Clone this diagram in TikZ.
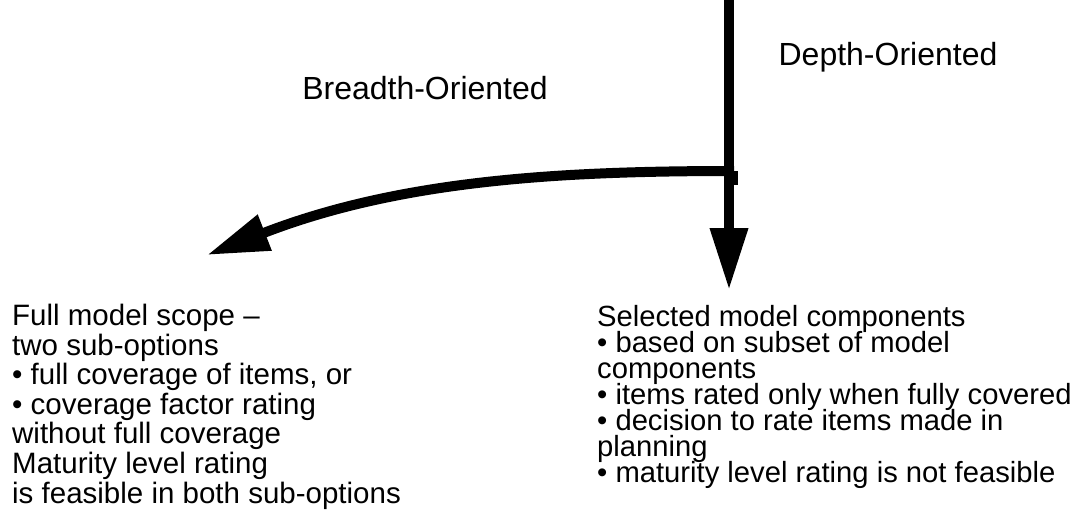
\documentclass[tikz,border=0pt]{standalone}
\usepackage{fontspec}
\setmainfont{Liberation Sans}
\usetikzlibrary{arrows.meta}
\newcommand\tightlines{\lineskiplimit=-20pt\relax}
\tikzset{
  bigarrow/.style = {line width=10pt, -{Triangle[length=62pt,width=36pt]}},
  optlabel/.style = {inner sep=0pt, font=\fontsize{32}{34}\selectfont},
  optbody/.style = {inner sep=0pt, anchor=base west, align=left}
}
\begin{document}
\begin{tikzpicture}[x=1pt,y=-1pt]
        \useasboundingbox (0,0) rectangle (1075,514);
        \coordinate (top) at (729,0);
        \coordinate (depthtip) at (729,290);
        \coordinate (split) at (734,171);
        \coordinate (breadthtip) at (207,255);
        \draw[bigarrow] (top) -- (depthtip);
        \draw[bigarrow] (split) .. controls (560,171) and (400,180) .. (breadthtip);
        \fill (733,171) rectangle (738,185);
        \node[optlabel] (breadth) at (425,88) {Breadth-Oriented};
        \node[optlabel] (depth) at (888,57) {Depth-Oriented};
        \node[optbody, font=\fontsize{29.5}{29.6}\selectfont\tightlines] (fullscope) at (12,503)
            {Full model scope --\\two sub-options\\\textbullet\ full coverage of items, or\\\textbullet\ coverage factor rating\\without full coverage\\Maturity level rating\\is feasible in both sub-options};
        \node[optbody, font=\fontsize{29.2}{26}\selectfont\tightlines] (selected) at (597,482)
            {Selected model components\\\textbullet\ based on subset of model\\components\\\textbullet\ items rated only when fully covered\\\textbullet\ decision to rate items made in\\planning\\\textbullet\ maturity level rating is not feasible};
        \end{tikzpicture}
\end{document}
